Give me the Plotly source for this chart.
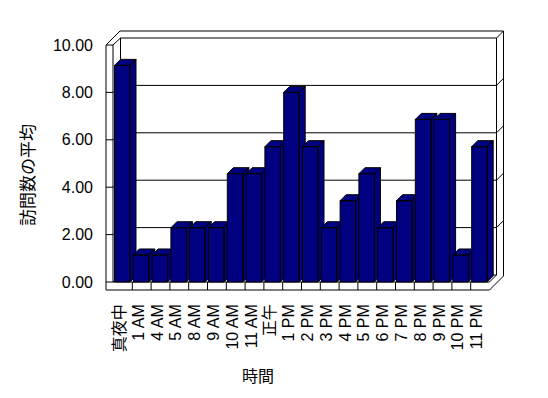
import plotly.graph_objects as go

# ---------------- data ----------------
categories = ["真夜中", "1 AM", "4 AM", "5 AM", "8 AM", "9 AM", "10 AM", "11 AM", "正午",
              "1 PM", "2 PM", "3 PM", "4 PM", "5 PM", "6 PM", "7 PM", "8 PM", "9 PM",
              "10 PM", "11 PM"]
values = [9.14, 1.14, 1.14, 2.29, 2.29, 2.29, 4.57, 4.57, 5.71,
          8.00, 5.71, 2.29, 3.43, 4.57, 2.29, 3.43, 6.86, 6.86, 1.14, 5.71]
y_ticks = [0, 2, 4, 6, 8, 10]
y_tick_labels = [f"{v:.2f}" for v in y_ticks]
x_title = "時間"
y_title = "訪問数の平均"

# ---------------- geometry (pixels, page coordinates) ----------------
W, H = 548, 398
PAGE_OFF = 8        # default body margin of the html page
CAT_X0 = 113.5      # left boundary of first category (front plane)
CAT_W = 18.8        # pixel width of one category
BASE_Y = 282.0      # pixel y of value 0 on front plane
UNIT_H = 23.7       # pixels per unit value
PL, PR, PT, PB = 100, 508, 28, 294   # plot area in page pixels


def X(px):
    return (px - CAT_X0) / CAT_W - 0.5


def Y(py):
    return (BASE_Y - py) / UNIT_H


def DXp(px):
    return px / CAT_W


def DYp(py):
    return py / UNIT_H


NAVY = "#000080"
fig = go.Figure()

# ---------------- bars (front, top, side faces) ----------------
bar_dx, bar_dy = DXp(6), DYp(6)
for i, v in enumerate(values):
    xl = i - 0.5 + DXp(1.0)
    xr = i - 0.5 + DXp(16.5)
    xs, ys = [], []
    polys = [
        [(xl, 0), (xr, 0), (xr, v), (xl, v), (xl, 0)],
        [(xl, v), (xr, v), (xr + bar_dx, v + bar_dy), (xl + bar_dx, v + bar_dy), (xl, v)],
        [(xr, 0), (xr + bar_dx, bar_dy), (xr + bar_dx, v + bar_dy), (xr, v), (xr, 0)],
    ]
    for p in polys:
        xs += [q[0] for q in p] + [None]
        ys += [q[1] for q in p] + [None]
    fig.add_trace(go.Scatter(x=xs, y=ys, mode="lines", fill="toself", fillcolor=NAVY,
                             line=dict(color="black", width=1), showlegend=False,
                             hoverinfo="skip", name=categories[i]))

# ---------------- walls / floor / gridlines ----------------
shapes = []


def seg(p, q):
    shapes.append(dict(type="line", xref="x", yref="y", layer="below",
                       x0=X(p[0]), y0=Y(p[1]), x1=X(q[0]), y1=Y(q[1]),
                       line=dict(color="black", width=1)))


def poly(pts):
    for a, b in zip(pts, pts[1:]):
        seg(a, b)


LW_OUT = 106.0            # left wall outer x
LW_IN = 113.0             # left wall inner x (front)
WALL_D = 7.0              # back wall depth offset
BW_L = CAT_X0 + WALL_D    # back wall inner left
BW_R = CAT_X0 + 20 * CAT_W + WALL_D   # back wall inner right
FR = CAT_X0 + 20 * CAT_W  # front right
TOP_F = BASE_Y - 10 * UNIT_H          # front top (value 10)
FLOOR_B = BASE_Y + 8                  # bottom of floor slab

# outer silhouette
poly([(LW_OUT, TOP_F), (LW_OUT + 2 * WALL_D, TOP_F - 2 * WALL_D),
      (BW_R + WALL_D, TOP_F - 2 * WALL_D), (BW_R + WALL_D, BASE_Y - 2 * WALL_D + 8),
      (FR, FLOOR_B), (LW_OUT, FLOOR_B), (LW_OUT, TOP_F)])
# left wall inner edge & top
seg((LW_IN, TOP_F), (LW_IN, BASE_Y))
seg((LW_IN, TOP_F), (BW_L, TOP_F - WALL_D))
# back wall inner face
poly([(BW_L, TOP_F - WALL_D), (BW_R, TOP_F - WALL_D), (BW_R, BASE_Y - WALL_D),
      (BW_L, BASE_Y - WALL_D), (BW_L, TOP_F - WALL_D)])
seg((BW_R, TOP_F - WALL_D), (BW_R + WALL_D, TOP_F - 2 * WALL_D))
# floor
seg((LW_IN, BASE_Y), (FR, BASE_Y))
seg((FR, BASE_Y), (BW_R, BASE_Y - WALL_D))
seg((LW_IN, BASE_Y), (BW_L, BASE_Y - WALL_D))
for k in range(1, len(categories)):
    bx = CAT_X0 + k * CAT_W
    seg((bx, BASE_Y), (bx, FLOOR_B))
# gridlines and ticks
for t in y_ticks:
    py = BASE_Y - t * UNIT_H
    seg((LW_OUT, py), (LW_IN, py))
    if 0 < t < 10:
        seg((LW_IN, py), (BW_L, py - WALL_D))
        seg((BW_L, py - WALL_D), (BW_R, py - WALL_D))
        seg((BW_R, py - WALL_D), (BW_R + WALL_D, py - 2 * WALL_D))

FONT = "Liberation Sans, Arial, Noto Sans CJK JP, sans-serif"
LABEL_SHIFT = DXp(-3)

fig.update_layout(
    width=W, height=H,
    margin=dict(l=PL - PAGE_OFF, r=W - (PR - PAGE_OFF), t=PT - PAGE_OFF,
                b=H - (PB - PAGE_OFF), pad=0),
    paper_bgcolor="white", plot_bgcolor="white",
    shapes=shapes,
    showlegend=False,
    font=dict(family=FONT, size=16, color="black"),
    xaxis=dict(range=[X(PL), X(PR)],
               tickvals=[i + LABEL_SHIFT for i in range(len(categories))],
               ticktext=categories, tickangle=-90, showgrid=False, zeroline=False,
               showline=False, ticks="", ticklabelstandoff=6, automargin=False,
               tickfont=dict(family=FONT, size=16, color="black")),
    yaxis=dict(range=[Y(PB), Y(PT)], tickvals=y_ticks, ticktext=y_tick_labels,
               showgrid=False, zeroline=False, showline=False, ticks="",
               ticklabelstandoff=6, automargin=False,
               tickfont=dict(family=FONT, size=16, color="black")),
    annotations=[
        dict(text=x_title, xref="paper", yref="paper", showarrow=False,
             x=(258 - PL) / (PR - PL), y=(PB - 375) / (PB - PT),
             xanchor="center", yanchor="middle",
             font=dict(family="Noto Sans CJK JP", size=16, color="black")),
        dict(text=y_title, xref="paper", yref="paper", showarrow=False, textangle=-90,
             x=(27 - PL) / (PR - PL), y=(PB - 175) / (PB - PT),
             xanchor="center", yanchor="middle",
             font=dict(family="Noto Sans CJK JP", size=17, color="black")),
    ],
)

fig.write_html("out.html")
